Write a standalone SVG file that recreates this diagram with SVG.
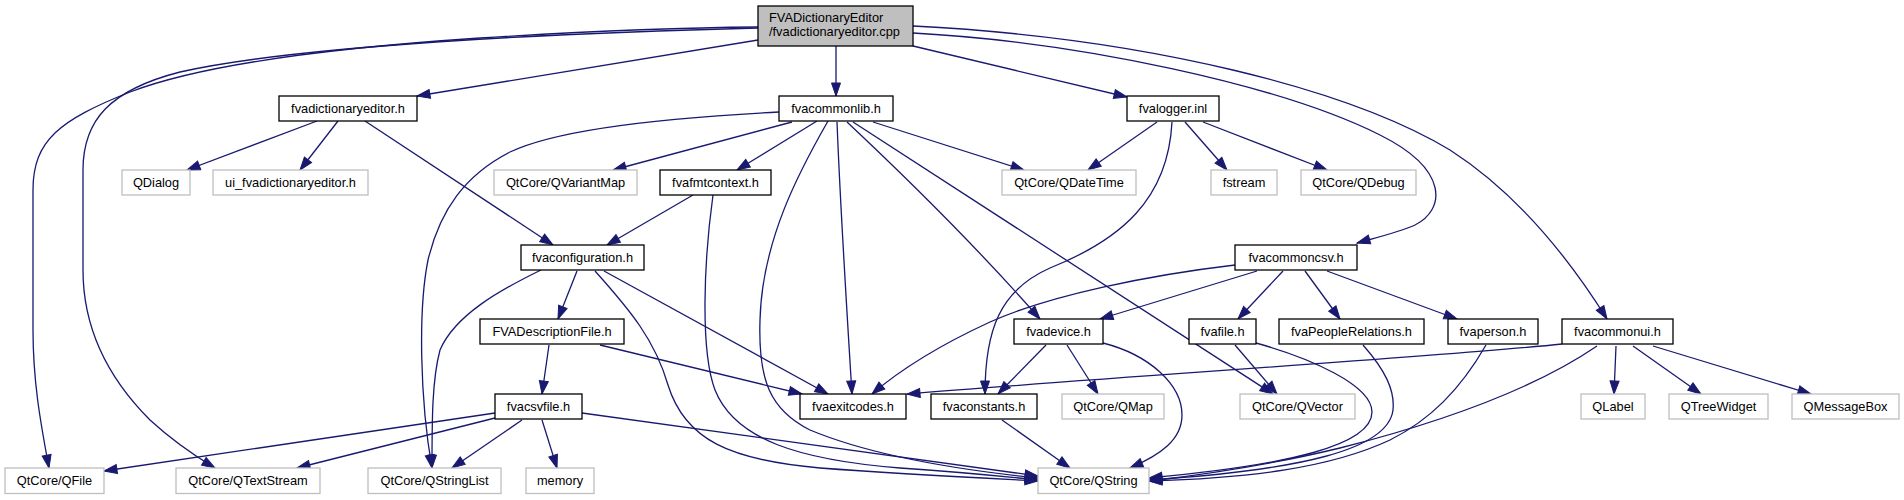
<svg xmlns="http://www.w3.org/2000/svg" width="1904" height="500" viewBox="0 0 1904 500">
<style>
.n rect{fill:#ffffff;stroke:#000000;stroke-width:1.3}
.x rect{fill:#ffffff;stroke:#bfbfbf;stroke-width:1.3}
.m rect{fill:#bfbfbf;stroke:#000000;stroke-width:1.3}
text{font-family:"Liberation Sans",Arial,Helvetica,sans-serif;font-size:12.8px;fill:#000000}
.c text{text-anchor:middle}
#edges path{fill:none;stroke:#191970;stroke-width:1.3;marker-end:url(#ah)}
</style>
<defs>
<marker id="ah" markerWidth="14" markerHeight="10" refX="13" refY="4.5" orient="auto" markerUnits="userSpaceOnUse" overflow="visible">
<path d="M0,0 L13,4.5 L0,9 z" fill="#191970" stroke="#191970" stroke-width="1"/>
</marker>
</defs>
<rect x="0" y="0" width="1904" height="500" fill="#ffffff"/>
<g id="edges">
<path d="M758,40 L417,96"/>
<path d="M836,46 L836,96"/>
<path d="M913,46 L1127,97"/>
<path d="M758,27 C650,28 560,33 480,38 C330,48 200,65 130,92 C60,120 33,140 33,190 L33,330 C33,380 40,420 49,468"/>
<path d="M758,28 C560,33 300,45 180,72 C110,90 83,120 83,170 L83,270 C83,330 110,380 150,420 C175,443 195,456 215,468"/>
<path d="M913,33 C1080,42 1280,85 1380,135 C1450,170 1445,210 1415,225 C1400,232 1375,238 1357,243"/>
<path d="M913,26 C1150,38 1350,90 1450,150 C1520,195 1570,260 1607,319"/>
<path d="M317,121 L187,170"/>
<path d="M338,121 L300,170"/>
<path d="M365,121 L553,245"/>
<path d="M779,112 C680,117 560,128 510,152 C465,175 440,210 428,260 C418,310 420,400 432,468"/>
<path d="M792,122 L613,170"/>
<path d="M817,121 L737,170"/>
<path d="M828,121 C800,170 762,240 760,320 C758,380 770,410 810,430 C870,455 960,470 1038,478"/>
<path d="M837,122 C840,200 848,330 852,394"/>
<path d="M847,122 Q960,228 1040,319"/>
<path d="M853,122 L1273,394"/>
<path d="M873,122 L1024,170"/>
<path d="M1157,122 L1088,170"/>
<path d="M1172,122 C1168,200 1120,240 1050,268 C1000,290 985,330 985,394"/>
<path d="M1185,122 L1227,170"/>
<path d="M1203,122 L1327,170"/>
<path d="M693,195 L607,245"/>
<path d="M713,195 C704,260 700,350 715,390 C735,440 800,460 900,468 C960,472 1000,476 1038,480"/>
<path d="M541,270 C500,290 455,315 440,350 C432,380 432,420 432,468"/>
<path d="M577,271 L558,319"/>
<path d="M595,271 C630,310 655,340 668,385 C685,440 730,460 820,468 C900,474 980,478 1038,481"/>
<path d="M604,271 L828,394"/>
<path d="M549,345 L542,394"/>
<path d="M600,345 L802,394"/>
<path d="M495,413 L104,471"/>
<path d="M495,418 L297,468"/>
<path d="M522,420 L452,468"/>
<path d="M542,420 L557,468"/>
<path d="M582,413 C750,435 900,458 1038,476"/>
<path d="M1235,265 C1150,275 1050,295 990,322 C940,345 900,370 872,394"/>
<path d="M1257,271 L1100,319"/>
<path d="M1283,271 L1238,319"/>
<path d="M1305,271 L1340,319"/>
<path d="M1327,271 L1457,319"/>
<path d="M1046,345 L998,394"/>
<path d="M1067,345 L1098,394"/>
<path d="M1103,343 C1150,355 1182,385 1182,415 C1182,440 1160,455 1130,468"/>
<path d="M1235,345 L1277,394"/>
<path d="M1256,343 C1310,358 1372,385 1372,412 C1372,445 1290,465 1149,478"/>
<path d="M1363,345 C1385,370 1395,390 1393,410 C1388,450 1300,470 1149,480"/>
<path d="M1486,345 C1460,390 1430,420 1390,440 C1330,468 1250,478 1149,481"/>
<path d="M1562,344 C1450,356 1100,378 907,394"/>
<path d="M1597,346 C1540,385 1450,420 1340,448 C1270,465 1200,475 1149,481"/>
<path d="M1616,346 L1614,394"/>
<path d="M1633,346 L1701,394"/>
<path d="M1653,346 L1811,394"/>
<path d="M1002,420 L1070,468"/>
</g>
<g id="node-main" class="m"><rect x="758" y="6" width="155" height="40"/><text x="769" y="21.5">FVADictionaryEditor</text><text x="769" y="36">/fvadictionaryeditor.cpp</text></g>
<g id="node-fvadictionaryeditor-h" class="n c"><rect x="279" y="96" width="138" height="25"/><text x="348" y="112.5">fvadictionaryeditor.h</text></g>
<g id="node-fvacommonlib-h" class="n c"><rect x="779" y="96" width="114" height="25"/><text x="836" y="112.5">fvacommonlib.h</text></g>
<g id="node-fvalogger-inl" class="n c"><rect x="1127" y="96" width="92" height="25"/><text x="1173" y="112.5">fvalogger.inl</text></g>
<g id="node-qdialog" class="x c"><rect x="122" y="170" width="68" height="25"/><text x="156" y="186.5">QDialog</text></g>
<g id="node-ui-fvadictionaryeditor-h" class="x c"><rect x="213" y="170" width="155" height="25"/><text x="290.5" y="186.5">ui_fvadictionaryeditor.h</text></g>
<g id="node-qvariantmap" class="x c"><rect x="494" y="170" width="143" height="25"/><text x="565.5" y="186.5">QtCore/QVariantMap</text></g>
<g id="node-fvafmtcontext-h" class="n c"><rect x="660" y="170" width="111" height="25"/><text x="715.5" y="186.5">fvafmtcontext.h</text></g>
<g id="node-qdatetime" class="x c"><rect x="1002" y="170" width="134" height="25"/><text x="1069" y="186.5">QtCore/QDateTime</text></g>
<g id="node-fstream" class="x c"><rect x="1211" y="170" width="66" height="25"/><text x="1244" y="186.5">fstream</text></g>
<g id="node-qdebug" class="x c"><rect x="1301" y="170" width="115" height="25"/><text x="1358.5" y="186.5">QtCore/QDebug</text></g>
<g id="node-fvaconfiguration-h" class="n c"><rect x="521" y="245" width="123" height="25"/><text x="582.5" y="261.5">fvaconfiguration.h</text></g>
<g id="node-fvacommoncsv-h" class="n c"><rect x="1235" y="245" width="122" height="25"/><text x="1296" y="261.5">fvacommoncsv.h</text></g>
<g id="node-fvadescriptionfile-h" class="n c"><rect x="480" y="319" width="144" height="25"/><text x="552" y="335.5">FVADescriptionFile.h</text></g>
<g id="node-fvadevice-h" class="n c"><rect x="1014" y="319" width="89" height="25"/><text x="1058.5" y="335.5">fvadevice.h</text></g>
<g id="node-fvafile-h" class="n c"><rect x="1189" y="319" width="67" height="25"/><text x="1222.5" y="335.5">fvafile.h</text></g>
<g id="node-fvapeoplerelations-h" class="n c"><rect x="1279" y="319" width="145" height="25"/><text x="1351.5" y="335.5">fvaPeopleRelations.h</text></g>
<g id="node-fvaperson-h" class="n c"><rect x="1448" y="319" width="90" height="25"/><text x="1493" y="335.5">fvaperson.h</text></g>
<g id="node-fvacommonui-h" class="n c"><rect x="1562" y="319" width="111" height="25"/><text x="1617.5" y="335.5">fvacommonui.h</text></g>
<g id="node-fvacsvfile-h" class="n c"><rect x="495" y="394" width="87" height="25"/><text x="538.5" y="410.5">fvacsvfile.h</text></g>
<g id="node-fvaexitcodes-h" class="n c"><rect x="800" y="394" width="106" height="25"/><text x="853" y="410.5">fvaexitcodes.h</text></g>
<g id="node-fvaconstants-h" class="n c"><rect x="931" y="394" width="106" height="25"/><text x="984" y="410.5">fvaconstants.h</text></g>
<g id="node-qmap" class="x c"><rect x="1062" y="394" width="102" height="25"/><text x="1113" y="410.5">QtCore/QMap</text></g>
<g id="node-qvector" class="x c"><rect x="1240" y="394" width="115" height="25"/><text x="1297.5" y="410.5">QtCore/QVector</text></g>
<g id="node-qlabel" class="x c"><rect x="1581" y="394" width="64" height="25"/><text x="1613" y="410.5">QLabel</text></g>
<g id="node-qtreewidget" class="x c"><rect x="1669" y="394" width="99" height="25"/><text x="1718.5" y="410.5">QTreeWidget</text></g>
<g id="node-qmessagebox" class="x c"><rect x="1792" y="394" width="107" height="25"/><text x="1845.5" y="410.5">QMessageBox</text></g>
<g id="node-qfile" class="x c"><rect x="5" y="468" width="99" height="25.5"/><text x="54.5" y="485">QtCore/QFile</text></g>
<g id="node-qtextstream" class="x c"><rect x="176" y="468" width="144" height="25.5"/><text x="248" y="485">QtCore/QTextStream</text></g>
<g id="node-qstringlist" class="x c"><rect x="368" y="468" width="133" height="25.5"/><text x="434.5" y="485">QtCore/QStringList</text></g>
<g id="node-memory" class="x c"><rect x="526" y="468" width="68" height="25.5"/><text x="560" y="485">memory</text></g>
<g id="node-qstring" class="x c"><rect x="1038" y="468" width="111" height="25.5"/><text x="1093.5" y="485">QtCore/QString</text></g>
</svg>
